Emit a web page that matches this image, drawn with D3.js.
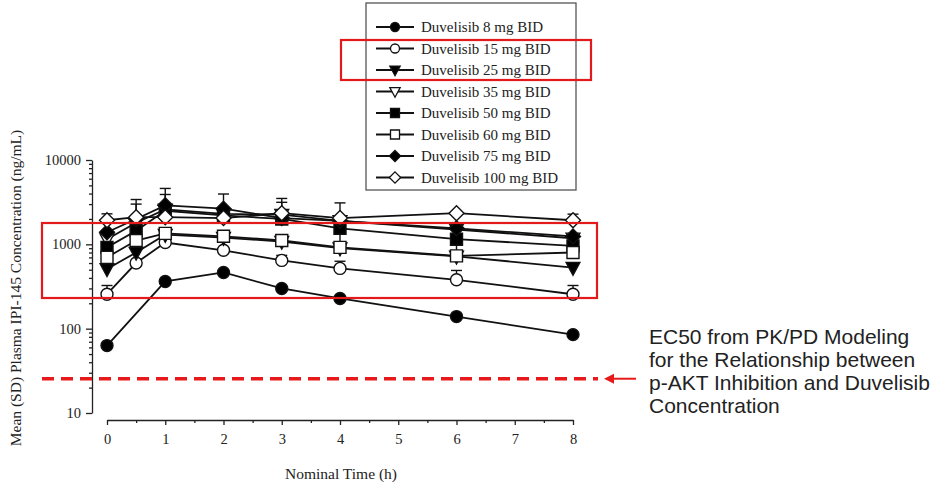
<!DOCTYPE html>
<html>
<head>
<meta charset="utf-8">
<script src="https://cdn.jsdelivr.net/npm/d3@7"></script>
<style>
  body { margin: 0; background: #fff; }
  svg text { font-family: "Liberation Serif", "Times New Roman", serif; fill: #222; }
  .note { font-family: "Liberation Sans", Arial, sans-serif; fill: #222; }
</style>
</head>
<body>
<div id="chart"></div>
<script>
// nominal sampling times (h)
const times = [0, 0.5, 1, 2, 3, 4, 6, 8];
const doseLabels = [
  'Duvelisib 8 mg BID', 'Duvelisib 15 mg BID', 'Duvelisib 25 mg BID', 'Duvelisib 35 mg BID',
  'Duvelisib 50 mg BID', 'Duvelisib 60 mg BID', 'Duvelisib 75 mg BID', 'Duvelisib 100 mg BID'
];
// mean concentration (ng/mL), one array per dose
const mean8 = [63, null, 363, 464, 300, 228, 139, 85];
const mean15 = [256, 600, 1050, 850, 645, 518, 380, 256];
const mean25 = [510, 800, 1300, 1200, 1080, 900, 720, 530];
const mean35 = [1150, 1800, 2600, 2300, 2250, 1900, 1500, 1180];
const mean50 = [920, 1450, 2500, 2200, 2000, 1550, 1150, 960];
const mean60 = [700, 1110, 1350, 1245, 1110, 920, 730, 800];
const mean75 = [1390, 2000, 2900, 2650, 2050, 1900, 1550, 1240];
const mean100 = [1930, 2100, 2100, 2050, 2340, 2050, 2340, 1930];
// mean + SD, only where the bar is visible
const upper8 = [null, null, null, null, null, null, null, null];
const upper15 = [325, null, null, null, 740, 630, 490, 325];
const upper25 = [null, null, null, null, null, null, null, null];
const upper35 = [null, null, 3900, null, null, null, null, null];
const upper50 = [null, null, null, null, null, null, null, null];
const upper60 = [null, 1500, null, null, null, 1900, 1500, null];
const upper75 = [null, 3400, 4600, 3950, 3150, null, null, null];
const upper100 = [2300, 3000, null, null, 3500, 3100, null, 2280];
const yTicks = [10, 100, 1000, 10000];
const xTicks = [0, 1, 2, 3, 4, 5, 6, 7, 8];
const ec50 = 25.5;
const noteLines = ['EC50 from PK/PD Modeling', 'for the Relationship between',
  'p-AKT Inhibition and Duvelisib', 'Concentration'];

const means = [mean8, mean15, mean25, mean35, mean50, mean60, mean75, mean100];
const uppers = [upper8, upper15, upper25, upper35, upper50, upper60, upper75, upper100];
const shapes = ['circle', 'circle', 'triangle', 'triangle', 'square', 'square', 'diamond', 'diamond'];
const filled = [true, false, true, false, true, false, true, false];

const svg = d3.select('#chart').append('svg')
  .attr('width', 936).attr('height', 483);

const x = d3.scaleLinear().domain([0, 8]).range([107, 573]);
const y = d3.scaleLog().domain([10, 10000]).range([413, 160]);

function markerPath(shape, r) {
  if (shape === 'circle') return d3.symbol(d3.symbolCircle, Math.PI * r * r)();
  if (shape === 'square') return 'M' + (-r) + ',' + (-r) + 'H' + r + 'V' + r + 'H' + (-r) + 'Z';
  if (shape === 'diamond') {
    const d = r * 1.25;
    return 'M0,' + (-d) + 'L' + d + ',0L0,' + d + 'L' + (-d) + ',0Z';
  }
  const t = r * 1.15;
  return 'M' + (-t) + ',' + (-t * 0.75) + 'L' + t + ',' + (-t * 0.75) + 'L0,' + (t * 1.1) + 'Z';
}

// y axis, major + minor
svg.append('g').attr('transform', 'translate(92,0)')
  .call(d3.axisLeft(y).tickValues(yTicks).tickFormat(d3.format('d')).tickSize(6).tickSizeOuter(0).tickPadding(5));
const yMinor = [];
[10, 100, 1000].forEach(b => { for (let k = 2; k <= 9; k++) yMinor.push(b * k); });
svg.append('g').attr('transform', 'translate(92,0)')
  .call(d3.axisLeft(y).tickValues(yMinor).tickFormat('').tickSize(3))
  .select('.domain').remove();

// x axis, major + minor
svg.append('g').attr('transform', 'translate(0,420)')
  .call(d3.axisBottom(x).tickValues(xTicks).tickSize(5).tickSizeOuter(0).tickPadding(9));
svg.append('g').attr('transform', 'translate(0,420)')
  .call(d3.axisBottom(x).tickValues(d3.range(0.5, 8, 1)).tickFormat('').tickSize(3))
  .select('.domain').remove();

svg.selectAll('.domain, .tick line').attr('stroke', '#222').attr('stroke-width', 1.3);
svg.selectAll('.tick text').style('font-size', '14.5px')
  .style('font-family', '"Liberation Serif", serif').attr('fill', '#222');

// axis titles
svg.append('text')
  .attr('transform', 'translate(21,288) rotate(-90)')
  .attr('text-anchor', 'middle').style('font-size', '15.5px')
  .text('Mean (SD) Plasma IPI-145 Concentration  (ng/mL)');
svg.append('text').attr('x', 341).attr('y', 479)
  .attr('text-anchor', 'middle').style('font-size', '15.5px')
  .text('Nominal Time (h)');

// series
const line = d3.line().x(d => x(d.t)).y(d => y(d.v));
means.forEach(m => {
  const pts = times.map((t, j) => ({ t: t, v: m[j] })).filter(d => d.v != null);
  svg.append('path').datum(pts)
    .attr('d', line).attr('fill', 'none').attr('stroke', '#111').attr('stroke-width', 1.8);
});
uppers.forEach((u, i) => {
  times.forEach((t, j) => {
    if (u[j] == null) return;
    const g = svg.append('g').attr('stroke', '#111').attr('stroke-width', 1.4);
    g.append('line').attr('x1', x(t)).attr('x2', x(t)).attr('y1', y(means[i][j])).attr('y2', y(u[j]));
    g.append('line').attr('x1', x(t) - 5.5).attr('x2', x(t) + 5.5).attr('y1', y(u[j])).attr('y2', y(u[j]));
  });
});
means.forEach((m, i) => {
  times.forEach((t, j) => {
    if (m[j] == null) return;
    svg.append('path').attr('d', markerPath(shapes[i], 6))
      .attr('transform', 'translate(' + x(t) + ',' + y(m[j]) + ')')
      .attr('fill', filled[i] ? '#000' : '#fff').attr('stroke', '#111').attr('stroke-width', 1.4);
  });
});

// legend
const legend = svg.append('g');
legend.append('rect').attr('x', 366).attr('y', 3).attr('width', 210).attr('height', 187)
  .attr('fill', '#fff').attr('stroke', '#555').attr('stroke-width', 1.3);
doseLabels.forEach((label, i) => {
  const ly = 27 + i * 21.5;
  legend.append('line').attr('x1', 376).attr('x2', 414).attr('y1', ly).attr('y2', ly)
    .attr('stroke', '#111').attr('stroke-width', 2);
  legend.append('path').attr('d', markerPath(shapes[i], 4.5))
    .attr('transform', 'translate(395,' + ly + ')')
    .attr('fill', filled[i] ? '#000' : '#fff').attr('stroke', '#111').attr('stroke-width', 1.3);
  legend.append('text').attr('x', 421).attr('y', ly + 5)
    .style('font-size', '15px').attr('fill', '#1f1f3a').text(label);
});

// EC50 reference line, arrow and note
svg.append('line').attr('x1', 42).attr('x2', 598).attr('y1', y(ec50)).attr('y2', y(ec50))
  .attr('stroke', '#e8191a').attr('stroke-width', 3.5).attr('stroke-dasharray', '12,7');
svg.append('line').attr('x1', 636).attr('x2', 612).attr('y1', y(ec50)).attr('y2', y(ec50))
  .attr('stroke', '#e8191a').attr('stroke-width', 2);
svg.append('path')
  .attr('d', 'M604,' + y(ec50) + 'l10,-5l0,10Z').attr('fill', '#e8191a');
noteLines.forEach((s, i) => {
  svg.append('text').attr('class', 'note').attr('x', 649).attr('y', 344 + i * 23)
    .style('font-size', '21px').text(s);
});

// highlight boxes
svg.append('rect').attr('x', 42).attr('y', 223).attr('width', 555).attr('height', 75)
  .attr('fill', 'none').attr('stroke', '#e3191c').attr('stroke-width', 2.2);
svg.append('rect').attr('x', 341).attr('y', 40).attr('width', 250).attr('height', 40)
  .attr('fill', 'none').attr('stroke', '#e3191c').attr('stroke-width', 2.2);
</script>
</body>
</html>
